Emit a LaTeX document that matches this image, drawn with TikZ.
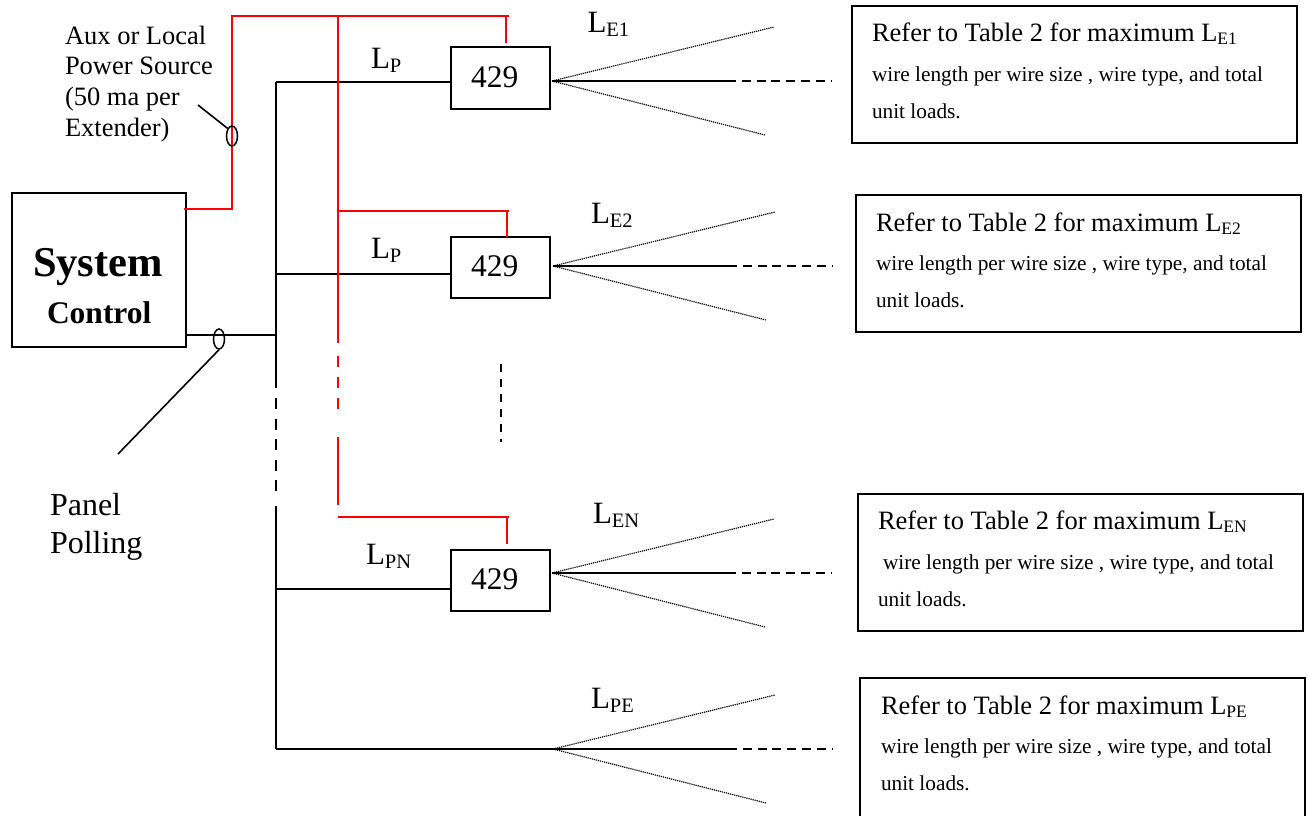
\documentclass[tikz,border=0pt]{standalone}
\usepackage{fontspec}
\setmainfont{Liberation Serif}
\newcommand{\fsz}[1]{\fontsize{#1}{#1}\selectfont}
\newcommand{\Lsub}[2]{\fsz{#1}L\raisebox{-0.14em}{\fsz{20.5}#2}}
\newcommand{\Lsubs}[1]{\fsz{26.5}L\raisebox{-0.14em}{\fsz{17.5}#1}}
\tikzset{
  txt/.style={anchor=base west,inner sep=0pt,outer sep=0pt},
  blk/.style={draw=black,line width=2pt},
  redw/.style={draw=red,line width=2pt},
  thin wire/.style={draw=black,line width=1.6pt},
  dotw/.style={draw=black,line width=1.2pt,dash pattern=on 1.2pt off 0.9pt},
  dashw/.style={draw=black,line width=1.6pt,dash pattern=on 9pt off 5.8pt},
  vdash/.style={draw=black,line width=2pt,dash pattern=on 8pt off 7pt},
  rdash/.style={draw=red,line width=2pt,dash pattern=on 11pt off 10pt},
  ring/.style={draw=black,line width=1.5pt,ellipse,inner sep=0pt,minimum width=11pt,minimum height=20pt},
  box/.style={draw=black,line width=1.8pt,rectangle,inner sep=0pt,outer sep=0pt},
}
\usetikzlibrary{shapes.geometric}
\newcommand{\wiretext}{\fsz{21.3}wire length per wire size , wire type, and total}
\newcommand{\unittext}{\fsz{21.3}unit loads.}
\newcommand{\reftext}[1]{\fsz{26.5}Refer to Table 2 for maximum \Lsubs{#1}}
\newcommand{\fan}[3]{%
  \coordinate (#1top) at (#2+222,#3-54);
  \coordinate (#1bot) at (#2+213,#3+54);
  \coordinate (#1mid) at (#2+175,#3);
  \coordinate (#1end) at (#2+280,#3);
  \draw[dotw] (#1apex) -- (#1top);
  \draw[dotw] (#1apex) -- (#1bot);
  \draw[blk] (#1apex) -- (#1mid);
  \draw[dashw] (#1mid) -- (#1end);
}
\begin{document}
\begin{tikzpicture}[x=1pt,y=-1pt]
\useasboundingbox (0,0) rectangle (1308,815);
% main boxes
\node[box,minimum width=174pt,minimum height=154pt] (sys) at (99,270) {};
\node[box,minimum width=99pt,minimum height=62pt] (x1) at (500.5,78) {};
\node[box,minimum width=99pt,minimum height=61pt] (x2) at (500.5,267.5) {};
\node[box,minimum width=99pt,minimum height=61pt] (x3) at (500.5,580.5) {};
% note boxes
\node[box,minimum width=445pt,minimum height=137pt] (n1) at (1074.5,74.5) {};
\node[box,minimum width=445pt,minimum height=137pt] (n2) at (1078.5,263.5) {};
\node[box,minimum width=445pt,minimum height=137pt] (n3) at (1080.5,562.5) {};
\node[box,minimum width=445pt,minimum height=150pt] (n4) at (1082.5,753) {};
% texts
\node[txt] (sysa) at (33,276) {\fsz{42.5}\bfseries System};
\node[txt] (sysb) at (47,323) {\fsz{31.5}\bfseries Control};
\node[txt] (aux1) at (65,44) {\fsz{26.5}Aux or Local};
\node[txt] (aux2) at (65,74) {\fsz{26.5}Power Source};
\node[txt] (aux3) at (65,105) {\fsz{26.5}(50 ma per};
\node[txt] (aux4) at (65,136) {\fsz{26.5}Extender)};
\node[txt] (pan1) at (50,515) {\fsz{32}Panel};
\node[txt] (pan2) at (50,553) {\fsz{32}Polling};
\node[txt] (t1) at (471,87) {\fsz{31.5}429};
\node[txt] (t2) at (471,276) {\fsz{31.5}429};
\node[txt] (t3) at (471,589) {\fsz{31.5}429};
\node[txt] (lp1) at (371,68) {\Lsub{31}{P}};
\node[txt] (lp2) at (371,258) {\Lsub{31}{P}};
\node[txt] (lpn) at (366,564) {\Lsub{31}{PN}};
\node[txt] (le1) at (587.5,32) {\Lsub{31}{E1}};
\node[txt] (le2) at (591,223) {\Lsub{31}{E2}};
\node[txt] (len) at (593,523) {\Lsub{31}{EN}};
\node[txt] (lpe) at (591,708) {\Lsub{31}{PE}};
\node[txt] (a1) at (872,41) {\reftext{E1}};
\node[txt] (a2) at (872,81) {\wiretext};
\node[txt] (a3) at (872,118) {\unittext};
\node[txt] (b1) at (876,231) {\reftext{E2}};
\node[txt] (b2) at (876,270) {\wiretext};
\node[txt] (b3) at (876,307) {\unittext};
\node[txt] (c1) at (878,529) {\reftext{EN}};
\node[txt] (c2) at (883,569) {\wiretext};
\node[txt] (c3) at (878,606) {\unittext};
\node[txt] (d1) at (881,714) {\reftext{PE}};
\node[txt] (d2) at (881,753) {\wiretext};
\node[txt] (d3) at (881,790) {\unittext};
% junction coordinates
\coordinate (busT) at (276,82);
\coordinate (busA) at (276,335);
\coordinate (busB) at (276,388);
\coordinate (busC) at (276,398);
\coordinate (busD) at (276,491);
\coordinate (busE) at (276,506);
\coordinate (bus2) at (276,274);
\coordinate (bus3) at (276,589);
\coordinate (busF) at (276,749);
\coordinate (rA) at (232,209);
\coordinate (rB) at (232,16);
\coordinate (rC) at (338,16);
\coordinate (rD) at (509,16);
\coordinate (rE) at (338,343);
\coordinate (rF) at (338,356);
\coordinate (rG) at (338,418);
\coordinate (rH) at (338,437);
\coordinate (rI) at (338,505);
\coordinate (r2) at (338,211);
\coordinate (r2e) at (509,211);
\coordinate (r3) at (338,517);
\coordinate (r3e) at (509,517);
\coordinate (d1t) at (506,16);
\coordinate (d1b) at (506,43);
\coordinate (d2t) at (507,211);
\coordinate (d3t) at (507,517);
\coordinate (d3b) at (507,544);
\coordinate (sysR) at (184,209);
\coordinate (midA) at (501,364);
\coordinate (midB) at (501,442);
\coordinate (leadA) at (198,105);
\coordinate (leadB) at (118,454);
\coordinate (ap1apex) at (552,81);
\coordinate (ap2apex) at (553,266);
\coordinate (ap3apex) at (552,573);
\coordinate (ap4apex) at (553,749);
% black wiring
\draw[blk] (sys.south east |- busA) -- (busA);
\draw[blk] (busT) -- (busB);
\draw[vdash,dash pattern=on 11pt off 9.5pt] (busC) -- (busD);
\draw[blk] (busE) -- (busF);
\draw[blk] (busT) -- (busT -| x1.west);
\draw[thin wire] (bus2) -- (bus2 -| x2.west);
\draw[blk] (bus3) -- (bus3 -| x3.west);
\draw[blk] (busF) -- (ap4apex);
\draw[vdash] (midA) -- (midB);
% red wiring
\draw[redw] (sysR) -- (rA) -- (rB) -- (rD);
\draw[redw] (rC) -- (rE);
\draw[rdash] (rF) -- (rG);
\draw[redw] (rH) -- (rI);
\draw[redw] (r2) -- (r2e);
\draw[redw] (r3) -- (r3e);
\draw[redw] (d1t) -- (d1b);
\draw[redw] (d2t) -- (d2t |- x2.north);
\draw[redw] (d3t) -- (d3b);
% rings and leaders
\node[ring] (ring1) at (232,136) {};
\node[ring] (ring2) at (219,339) {};
\draw[thin wire] (leadA) -- (ring1.north west);
\draw[thin wire] (ring2.south) -- (leadB);
% fans
\fan{ap1}{552}{81}
\fan{ap2}{553}{266}
\fan{ap3}{552}{573}
\fan{ap4}{553}{749}
\end{tikzpicture}
\end{document}
